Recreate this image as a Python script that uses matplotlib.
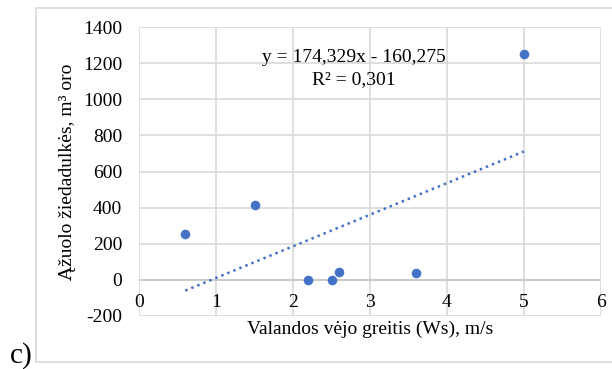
import matplotlib.pyplot as plt
import numpy as np
from matplotlib.patches import Rectangle

# duomenys
wind_speed = [0.6, 1.5, 2.2, 2.5, 2.6, 3.6, 5.0]
pollen = [255, 415, 0, 0, 44, 39, 1248]
trend_eq = "y = 174,329x - 160,275"
trend_r2 = "R\u00b2 = 0,301"
x_ticks = [0, 1, 2, 3, 4, 5, 6]
y_ticks = [-200, 0, 200, 400, 600, 800, 1000, 1200, 1400]

plt.rcParams["font.family"] = ["Liberation Serif", "DejaVu Serif"]
plt.rcParams["axes.unicode_minus"] = False
W, H = 612, 369
fig = plt.figure(figsize=(W / 100, H / 100), dpi=100)

# ramelis aplink diagrama (desinysis kraštas už paveikslo ribų)
fig.patches.append(Rectangle((36 / W, 1 - 362 / H), 590 / W, 354 / H,
                             transform=fig.transFigure, fill=False,
                             edgecolor="#d9d9d9", linewidth=1.2))
fig.text(10 / W, 1 - 356 / H, "c)", fontsize=21, va="center", ha="left")

ax = fig.add_axes([139 / W, 1 - 316 / H, 462 / W, 289 / H])
ax.set_xlim(0, 6)
ax.set_ylim(-200, 1400)
ax.set_xticks(x_ticks)
ax.set_yticks(y_ticks)
ax.grid(True, color="#d9d9d9", linewidth=1.2)
ax.set_axisbelow(True)
for s in ax.spines.values():
    s.set_visible(False)
ax.spines["bottom"].set_position(("data", 0))
ax.axhline(0, color="#c8c8c8", linewidth=1.2, zorder=1)
ax.tick_params(length=0, labelsize=14)
ax.tick_params(axis="y", pad=12)
ax.tick_params(axis="x", pad=10)

ax.scatter(wind_speed, pollen, s=48, color="#4472c4", zorder=3, linewidths=0)

# tiesine tendencija
k, b = np.polyfit(wind_speed, pollen, 1)
xs = np.array([min(wind_speed), max(wind_speed)])
ax.plot(xs, k * xs + b, linestyle=(0, (1, 1.6)), color="#4472c4",
        linewidth=1.8, zorder=2)

fig.text(354 / W, 1 - 58 / H, trend_eq, fontsize=14, ha="center", va="center")
fig.text(354 / W, 1 - 80 / H, trend_r2, fontsize=14, ha="center", va="center")

ax.set_xlabel("Valandos vėjo greitis (Ws), m/s", fontsize=14, va="center")
ax.xaxis.set_label_coords(0.5, (316 - 329) / 289)
ax.set_ylabel("Ąžuolo žiedadulkės, m\u00b3 oro", fontsize=14, va="center")
ax.yaxis.set_label_coords((68 - 139) / 462, 0.5)

fig.savefig("out.png", dpi=100)
